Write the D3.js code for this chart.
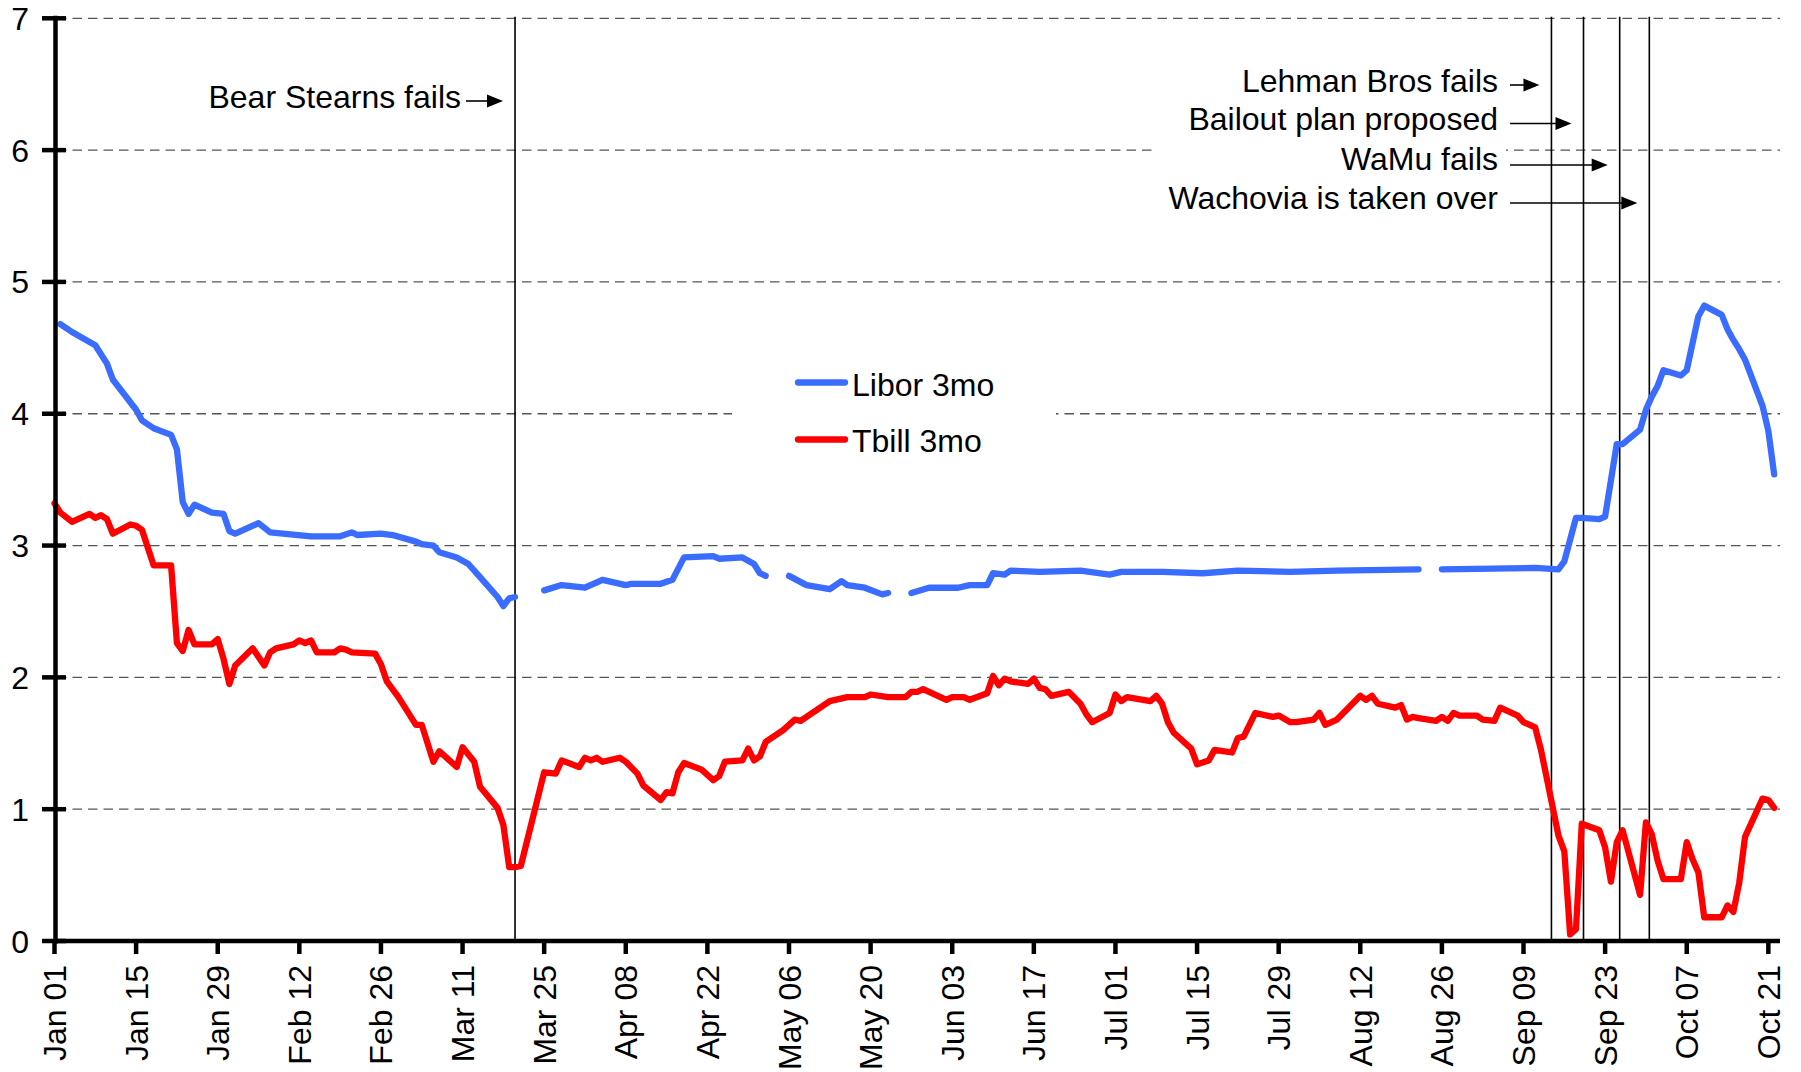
<!DOCTYPE html>
<html><head><meta charset="utf-8">
<script src="https://cdn.jsdelivr.net/npm/d3@7"></script>
<style>
body{margin:0;background:#fff}
text{font-family:"Liberation Sans",Arial,Helvetica,sans-serif;fill:#000}
</style>
</head><body>
<svg id="c" width="1801" height="1072"></svg>
<script>
// ---------- DATA ----------
const tbillDates = ["01-01","01-02","01-04","01-07","01-08","01-09","01-10","01-11","01-14","01-15","01-16","01-18","01-21","01-22","01-23","01-24","01-25","01-28","01-29","01-30","01-31",
"02-01","02-04","02-06","02-07","02-08","02-11","02-12","02-13","02-14","02-15","02-18","02-19","02-20","02-21","02-25","02-26","02-27","02-29",
"03-03","03-04","03-06","03-07","03-10","03-11","03-13","03-14","03-17","03-18","03-19","03-20","03-21","03-25","03-27","03-28","03-31",
"04-01","04-02","04-03","04-04","04-07","04-08","04-10","04-11","04-14","04-15","04-16","04-17","04-18","04-21","04-22","04-23","04-24","04-25","04-28","04-29","04-30",
"05-01","05-02","05-05","05-07","05-08","05-13","05-16","05-19","05-20","05-23","05-26","05-27","05-28","05-29",
"06-02","06-03","06-05","06-06","06-09","06-10","06-11","06-12","06-13","06-16","06-17","06-18","06-19","06-20","06-23","06-25","06-26","06-27","06-30",
"07-01","07-02","07-03","07-07","07-08","07-09","07-10","07-11","07-14","07-15","07-17","07-18","07-21","07-22","07-23","07-25","07-28","07-29","07-31",
"08-01","08-04","08-05","08-06","08-08","08-12","08-13","08-14","08-15","08-18","08-19","08-20","08-21","08-22","08-25","08-26","08-27","08-28","08-29",
"09-01","09-02","09-04","09-05","09-08","09-09","09-11","09-12","09-15","09-16","09-17","09-18","09-19","09-22","09-23","09-24","09-25","09-26","09-29","09-30",
"10-01","10-02","10-03","10-06","10-07","10-08","10-09","10-10","10-13","10-14","10-15","10-16","10-17","10-20","10-21","10-22"];
const tbillValues = [3.32,3.25,3.18,3.24,3.21,3.23,3.20,3.09,3.16,3.15,3.12,2.85,2.85,2.26,2.20,2.36,2.25,2.25,2.29,2.14,1.95,
2.09,2.22,2.09,2.19,2.22,2.25,2.28,2.26,2.28,2.19,2.19,2.22,2.21,2.19,2.18,2.10,1.97,1.85,
1.64,1.64,1.36,1.44,1.32,1.47,1.36,1.17,1.01,0.88,0.56,0.56,0.57,1.28,1.27,1.37,1.32,
1.39,1.37,1.39,1.36,1.39,1.36,1.27,1.18,1.07,1.13,1.12,1.28,1.35,1.30,1.26,1.22,1.25,1.36,1.37,1.46,1.37,
1.40,1.51,1.60,1.68,1.67,1.82,1.85,1.85,1.87,1.85,1.85,1.89,1.89,1.91,
1.83,1.85,1.85,1.83,1.88,2.01,1.94,1.99,1.97,1.95,1.99,1.92,1.91,1.86,1.89,1.80,1.72,1.66,1.73,
1.87,1.82,1.85,1.82,1.86,1.80,1.66,1.58,1.46,1.34,1.37,1.45,1.43,1.54,1.55,1.73,1.70,1.71,1.66,
1.66,1.68,1.73,1.64,1.68,1.86,1.83,1.86,1.80,1.77,1.79,1.68,1.70,1.69,1.67,1.70,1.67,1.73,1.71,
1.71,1.68,1.67,1.77,1.71,1.66,1.62,1.45,0.80,0.68,0.05,0.09,0.89,0.84,0.71,0.45,0.75,0.84,0.35,0.90,
0.81,0.61,0.47,0.47,0.75,0.62,0.52,0.18,0.18,0.27,0.22,0.44,0.79,1.08,1.07,1.01];

const liborDates = ["01-02","01-04","01-08","01-10","01-11","01-15","01-16","01-18","01-21","01-22","01-23","01-24","01-25","01-28","01-30","01-31",
"02-01","02-05","02-07","02-14","02-19","02-21","02-22","02-26","02-28",
"03-03","03-04","03-06","03-07","03-10","03-12","03-14","03-17","03-18","03-19","03-20","03-21","03-25","03-28",
"04-01","04-04","04-08","04-09","04-14","04-16","04-18","04-23","04-24","04-28","04-30",
"05-01","05-02","05-05","05-06","05-09","05-13","05-15","05-16","05-19","05-22","05-23","05-26","05-27","05-30",
"06-04","06-06","06-09","06-10","06-12","06-13","06-18","06-25","06-30",
"07-02","07-09","07-16","07-22","07-31",
"08-08","08-22","08-25","08-26",
"09-11","09-15","09-16","09-18","09-19","09-22","09-23","09-25","09-26","09-29","09-30",
"10-01","10-02","10-03","10-06","10-07","10-09","10-10","10-13","10-14","10-15","10-16","10-17","10-20","10-21","10-22"];
const liborValues = [4.68,4.62,4.52,4.38,4.26,4.03,3.95,3.89,3.84,3.73,3.33,3.24,3.31,3.25,3.24,3.11,
3.09,3.17,3.10,3.07,3.07,3.10,3.08,3.09,3.08,
3.03,3.01,3.00,2.95,2.91,2.86,2.76,2.61,2.54,2.60,2.61,null,2.66,2.70,
2.68,2.74,2.70,2.71,2.71,2.74,2.91,2.92,2.90,2.91,2.86,
2.79,2.77,null,2.77,2.70,2.67,2.73,2.70,2.68,2.63,2.64,null,2.64,2.68,
2.68,2.70,2.70,2.79,2.78,2.81,2.80,2.81,2.78,
2.80,2.80,2.79,2.81,2.80,
2.81,2.82,null,2.82,
2.83,2.82,2.88,3.21,3.21,3.20,3.22,3.77,3.77,3.88,4.03,
4.13,4.21,4.33,4.29,4.33,4.74,4.82,4.75,4.64,4.56,4.49,4.41,4.06,3.87,3.54];

const yTickValues = [0,1,2,3,4,5,6,7];
const xTickLabels = ["Jan 01","Jan 15","Jan 29","Feb 12","Feb 26","Mar 11","Mar 25","Apr 08","Apr 22","May 06","May 20","Jun 03","Jun 17","Jul 01","Jul 15","Jul 29","Aug 12","Aug 26","Sep 09","Sep 23","Oct 07","Oct 21"];
const seriesNames = ["Libor 3mo","Tbill 3mo"];
const eventLabels = ["Bear Stearns fails","Lehman Bros fails","Bailout plan proposed","WaMu fails","Wachovia is taken over"];
const eventDates = ["03-20 00:00","09-13 19:00","09-19 07:00","09-25 12:00","09-30 14:00"];

// ---------- CHART ----------
const YEAR = "2008-";
const pDay = d3.timeParse("%Y-%m-%d");
const pTime = d3.timeParse("%Y-%m-%d %H:%M");
const pTick = d3.timeParse("%b %d %Y");
const svg = d3.select("#c");
const COL_LIBOR = "#3a6cff", COL_TBILL = "#ff0000";
const FS = 32, LW = 6.3;

const x = d3.scaleTime().domain([new Date(2008,0,1), new Date(2008,9,23)]).range([54.5, 1780]);
const y = d3.scaleLinear().domain([0,7]).range([941, 18.3]);

// gridlines
svg.append("g").selectAll("line").data(yTickValues.filter(v => v > 0)).join("line")
  .attr("x1", 57).attr("x2", 1780).attr("y1", d => y(d)).attr("y2", d => y(d))
  .attr("stroke", "#555").attr("stroke-width", 1.3).attr("stroke-dasharray", "9.5,6");

// white boxes (legend, annotation text box) hiding gridlines
svg.append("rect").attr("x", 732).attr("y", 345).attr("width", 324).attr("height", 130).attr("fill", "#fff");
svg.append("rect").attr("x", 1154).attr("y", 55).attr("width", 352).attr("height", 170).attr("fill", "#fff");

// event vertical lines
const evDates = eventDates.map(s => pTime(YEAR + s));
svg.append("g").selectAll("line").data(evDates).join("line")
  .attr("x1", d => x(d)).attr("x2", d => x(d)).attr("y1", y(7) - 1.5).attr("y2", y(0))
  .attr("stroke", "#000").attr("stroke-width", 1.6);

// series
const tbill = tbillDates.map((d, i) => ({d: pDay(YEAR + d), v: tbillValues[i]}));
const libor = liborDates.map((d, i) => ({d: pDay(YEAR + d), v: liborValues[i]}));
const line = d3.line().defined(p => p.v != null).x(p => x(p.d)).y(p => y(p.v));
svg.append("path").datum(tbill).attr("d", line).attr("fill", "none")
  .attr("stroke", COL_TBILL).attr("stroke-width", LW).attr("stroke-linejoin", "round").attr("stroke-linecap", "round");
svg.append("path").datum(libor).attr("d", line).attr("fill", "none")
  .attr("stroke", COL_LIBOR).attr("stroke-width", LW).attr("stroke-linejoin", "round").attr("stroke-linecap", "round");

// axes
const yAxis = svg.append("g");
yAxis.append("line").attr("x1", 55.5).attr("x2", 55.5).attr("y1", y(7) - 2.5).attr("y2", y(0) + 2.5)
  .attr("stroke", "#000").attr("stroke-width", 4.5);
yAxis.selectAll("line.t").data(yTickValues).join("line").attr("class", "t")
  .attr("x1", 42).attr("x2", 66).attr("y1", d => y(d)).attr("y2", d => y(d))
  .attr("stroke", "#000").attr("stroke-width", 4.5);
yAxis.selectAll("text").data(yTickValues).join("text")
  .attr("x", 29).attr("y", d => y(d)).attr("dy", "0.36em").attr("text-anchor", "end")
  .attr("font-size", FS).text(d => d);

const xAxis = svg.append("g");
xAxis.append("line").attr("x1", 53).attr("x2", 1780).attr("y1", y(0)).attr("y2", y(0))
  .attr("stroke", "#000").attr("stroke-width", 4.5);
const tickDates = xTickLabels.map(s => pTick(s + " 2008"));
xAxis.selectAll("line.t").data(tickDates).join("line").attr("class", "t")
  .attr("x1", d => x(d)).attr("x2", d => x(d)).attr("y1", y(0)).attr("y2", y(0) + 13)
  .attr("stroke", "#000").attr("stroke-width", 4.5);
xAxis.selectAll("text").data(tickDates).join("text")
  .attr("transform", d => `translate(${x(d)},965) rotate(-90)`)
  .attr("dy", "0.36em").attr("text-anchor", "end").attr("font-size", FS)
  .text((d, i) => xTickLabels[i]);

// legend
const lg = svg.append("g");
[[COL_LIBOR, 382.5, 396], [COL_TBILL, 439.5, 452]].forEach((c, i) => {
  lg.append("line").attr("x1", 798).attr("x2", 845).attr("y1", c[1]).attr("y2", c[1])
    .attr("stroke", c[0]).attr("stroke-width", LW).attr("stroke-linecap", "round");
  lg.append("text").attr("x", 852).attr("y", c[2]).attr("font-size", FS).text(seriesNames[i]);
});

// annotations
const ann = svg.append("g");
const annText = [[461, 107.5, 466, 101], [1498, 92, 1510, 85], [1498, 130, 1510, 123.5], [1498, 169.5, 1510, 165], [1498, 209, 1510, 203]];
function arrow(x1, x2, yy) {
  ann.append("line").attr("x1", x1).attr("x2", x2 - 12).attr("y1", yy).attr("y2", yy).attr("stroke", "#000").attr("stroke-width", 1.6);
  ann.append("path").attr("d", `M${x2},${yy} L${x2 - 16},${yy - 6.5} L${x2 - 16},${yy + 6.5} Z`).attr("fill", "#000");
}
eventLabels.forEach((lab, i) => {
  const a = annText[i];
  ann.append("text").attr("x", a[0]).attr("y", a[1]).attr("text-anchor", "end").attr("font-size", FS).text(lab);
  arrow(a[2], x(evDates[i]) - 12, a[3]);
});
</script>
</body></html>
